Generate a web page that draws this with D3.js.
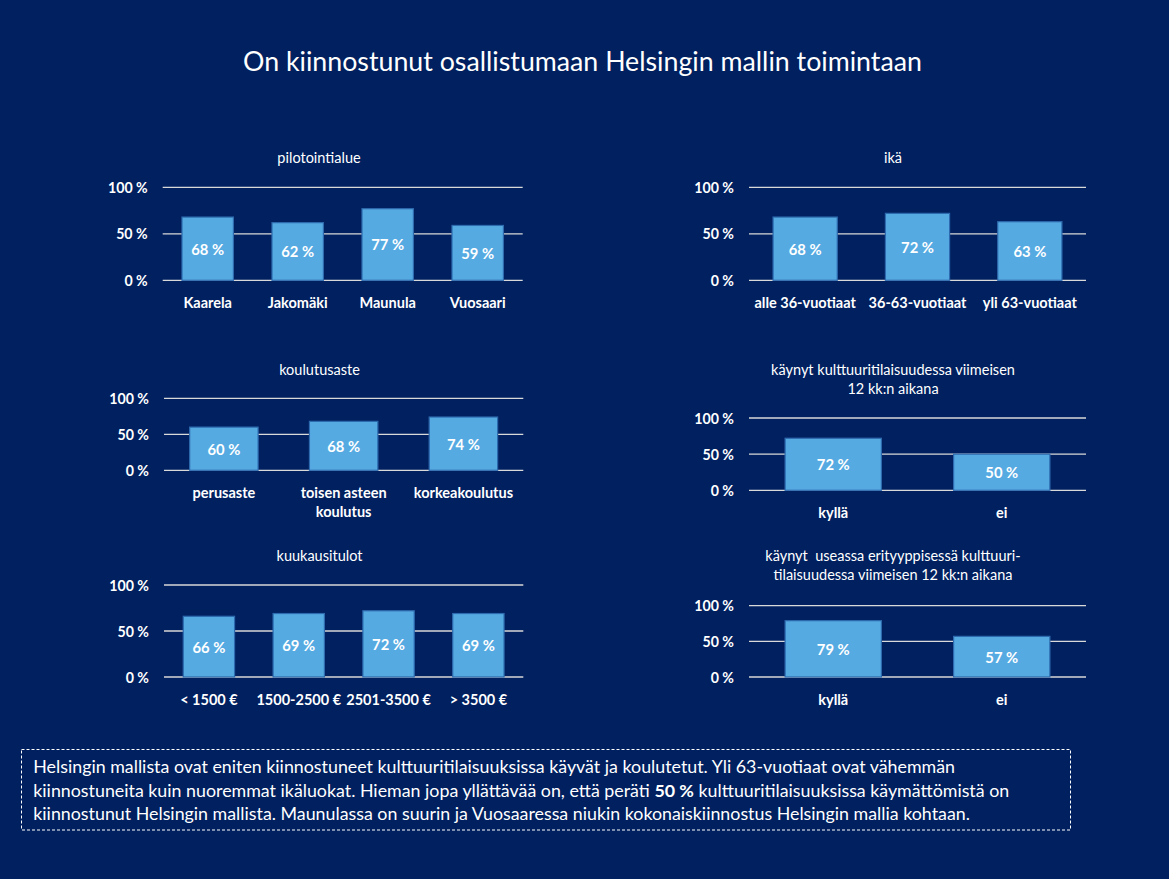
<!DOCTYPE html>
<html><head><meta charset="utf-8">
<script src="https://cdn.jsdelivr.net/npm/d3@7"></script>
<style>
html,body{margin:0;padding:0;background:#002060;}
svg{display:block;font-family:Lato,"Open Sans",sans-serif;}
</style></head><body>
<svg id="chart" width="1169" height="879"></svg>
<script>
// ---------- DATA ----------
const mainTitle = "On kiinnostunut osallistumaan Helsingin mallin toimintaan";
const yTicks = [0, 50, 100];
const yTickLabels = ["0 %", "50 %", "100 %"];

const areaTitle = ["pilotointialue"];
const areaCategories = ["Kaarela", "Jakomäki", "Maunula", "Vuosaari"];
const areaValues = [68, 62, 77, 59];

const ageTitle = ["ikä"];
const ageCategories = ["alle 36-vuotiaat", "36-63-vuotiaat", "yli 63-vuotiaat"];
const ageValues = [68, 72, 63];

const eduTitle = ["koulutusaste"];
const eduCategories = ["perusaste", "toisen asteen\nkoulutus", "korkeakoulutus"];
const eduValues = [60, 68, 74];

const visitTitle = ["käynyt kulttuuritilaisuudessa viimeisen", "12 kk:n aikana"];
const visitCategories = ["kyllä", "ei"];
const visitValues = [72, 50];

const incomeTitle = ["kuukausitulot"];
const incomeCategories = ["< 1500 €", "1500-2500 €", "2501-3500 €", "> 3500 €"];
const incomeValues = [66, 69, 72, 69];

const multiTitle = ["käynyt  useassa erityyppisessä kulttuuri-", "tilaisuudessa viimeisen 12 kk:n aikana"];
const multiCategories = ["kyllä", "ei"];
const multiValues = [79, 57];

const noteLines = [
  [["Helsingin mallista ovat eniten kiinnostuneet kulttuuritilaisuuksissa käyvät ja koulutetut. Yli 63-vuotiaat ovat vähemmän", false]],
  [["kiinnostuneita kuin nuoremmat ikäluokat. Hieman jopa yllättävää on, että peräti ", false], ["50 %", true], [" kulttuuritilaisuuksissa käymättömistä on", false]],
  [["kiinnostunut Helsingin mallista. Maunulassa on suurin ja Vuosaaressa niukin kokonaiskiinnostus Helsingin mallia kohtaan.", false]]
];

// ---------- LAYOUT / STYLE ----------
const BG = "#002060", BAR = "#56AAE2", BAR_STROKE = "#2D6AAE", GRID = "#D9D9D9", TXT = "#FFFFFF";
const panels = [
  {title: areaTitle,   cats: areaCategories,   vals: areaValues,   x0: 162.7, x1: 522.7, yTop: 187.3, yBot: 280.3, tx: 319,   ty: 157},
  {title: ageTitle,    cats: ageCategories,    vals: ageValues,    x0: 749,   x1: 1086,  yTop: 187.3, yBot: 280.3, tx: 893,   ty: 157},
  {title: eduTitle,    cats: eduCategories,    vals: eduValues,    x0: 164,   x1: 523.3, yTop: 398.3, yBot: 470.3, tx: 319.5, ty: 369},
  {title: visitTitle,  cats: visitCategories,  vals: visitValues,  x0: 749,   x1: 1086,  yTop: 418,   yBot: 490.3, tx: 893,   ty: 369},
  {title: incomeTitle, cats: incomeCategories, vals: incomeValues, x0: 164,   x1: 523.3, yTop: 585,   yBot: 677,   tx: 319.5, ty: 555},
  {title: multiTitle,  cats: multiCategories,  vals: multiValues,  x0: 749,   x1: 1086,  yTop: 605.7, yBot: 677,   tx: 893,   ty: 555}
];

const svg = d3.select("#chart");
svg.append("rect").attr("width", 1169).attr("height", 879).attr("fill", BG);

function fit(sel, target) {
  const n = sel.node();
  const fs = parseFloat(sel.attr("font-size"));
  const len = n.getComputedTextLength();
  sel.attr("font-size", (fs * target / len).toFixed(2));
}

// main title
const t = svg.append("text").attr("x", 582.5).attr("y", 71).attr("text-anchor", "middle")
  .attr("fill", TXT).attr("font-size", 24).text(mainTitle);
fit(t, 679);

panels.forEach(p => {
  const g = svg.append("g");
  const x = d3.scaleBand().domain(p.cats).range([p.x0, p.x1]).paddingInner(0.4286).paddingOuter(0.2143);
  const y = d3.scaleLinear().domain([0, 100]).range([p.yBot, p.yTop]);

  // title
  p.title.forEach((line, i) => {
    g.append("text").attr("x", p.tx).attr("y", p.ty + i * 19.6)
      .attr("text-anchor", "middle").attr("dominant-baseline", "central")
      .attr("fill", TXT).attr("font-size", 14.5).attr("xml:space", "preserve").text(line);
  });

  // gridlines
  g.selectAll(".grid").data(yTicks).join("line")
    .attr("x1", p.x0).attr("x2", p.x1)
    .attr("y1", d => y(d)).attr("y2", d => y(d))
    .attr("stroke", GRID).attr("stroke-width", 1.3);

  // y axis labels
  g.selectAll(".ytl").data(yTicks).join("text")
    .attr("x", p.x0 - 15).attr("y", d => y(d))
    .attr("text-anchor", "end").attr("dominant-baseline", "central")
    .attr("fill", TXT).attr("font-weight", "bold").attr("font-size", 14.2)
    .text((d, i) => yTickLabels[i]);

  // bars
  g.selectAll(".bar").data(p.vals).join("rect")
    .attr("x", (d, i) => x(p.cats[i])).attr("width", x.bandwidth())
    .attr("y", d => y(d)).attr("height", d => p.yBot - y(d))
    .attr("fill", BAR).attr("stroke", BAR_STROKE).attr("stroke-width", 1.2);

  // value labels
  g.selectAll(".val").data(p.vals).join("text")
    .attr("x", (d, i) => x(p.cats[i]) + x.bandwidth() / 2)
    .attr("y", d => (y(d) + p.yBot) / 2)
    .attr("text-anchor", "middle").attr("dominant-baseline", "central")
    .attr("fill", TXT).attr("font-weight", "bold").attr("font-size", 14.8)
    .text(d => d + " %");

  // category labels
  p.cats.forEach(c => {
    const lines = c.split("\n");
    lines.forEach((ln, j) => {
      g.append("text").attr("x", x(c) + x.bandwidth() / 2).attr("y", p.yBot + 22 + j * 19.5)
        .attr("text-anchor", "middle").attr("dominant-baseline", "central")
        .attr("fill", TXT).attr("font-weight", "bold").attr("font-size", 14.5).text(ln);
    });
  });
});

// note box
svg.append("rect").attr("x", 21.5).attr("y", 749.5).attr("width", 1049).attr("height", 80.5)
  .attr("fill", "none").attr("stroke", "#FFFFFF").attr("stroke-width", 1).attr("stroke-dasharray", "3,2");

const noteTargets = [922, 970, 942];
let ratio = null;
noteLines.forEach((segs, i) => {
  const tx = svg.append("text").attr("x", 33.3).attr("y", 773.3 + i * 23.3)
    .attr("fill", TXT).attr("font-size", 17);
  segs.forEach(s => tx.append("tspan").attr("font-weight", s[1] ? "bold" : "normal").text(s[0]));
  if (i === 0) { fit(tx, noteTargets[0]); ratio = parseFloat(tx.attr("font-size")); }
  else tx.attr("font-size", ratio);
});
</script>
</body></html>
